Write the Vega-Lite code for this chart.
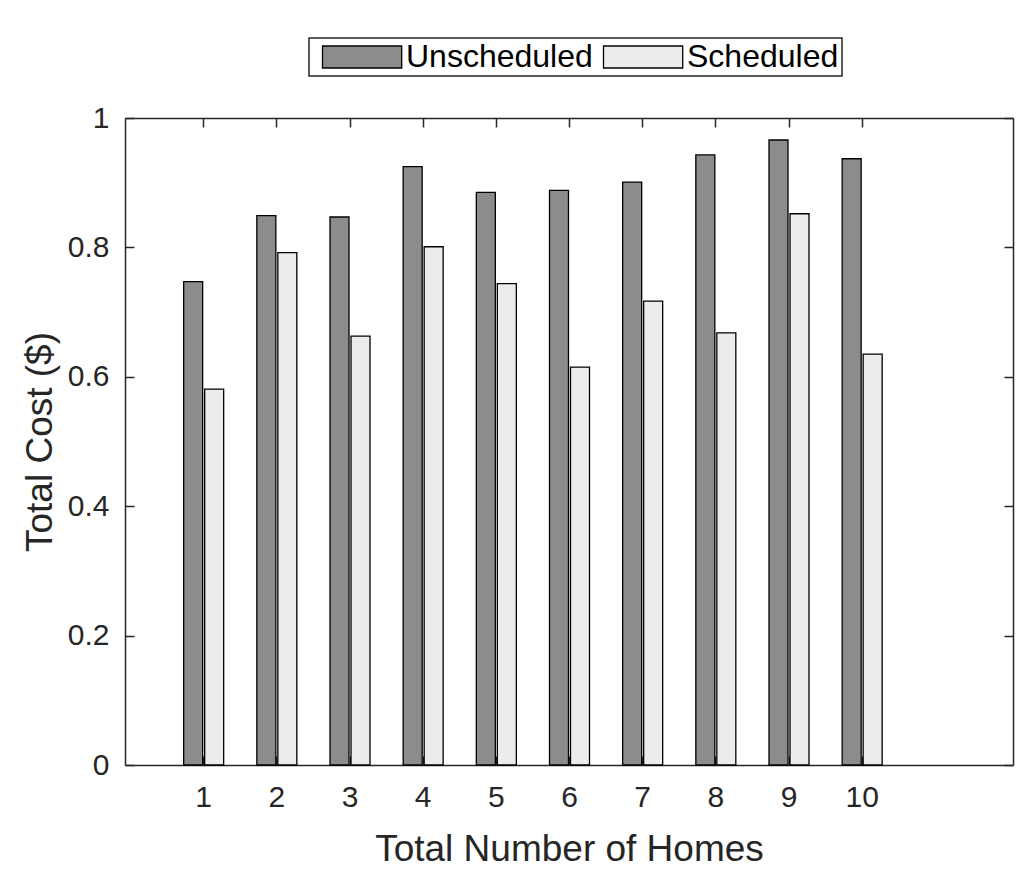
{
  "$schema": "https://vega.github.io/schema/vega-lite/v6.json",
  "width": 888,
  "height": 647,
  "autosize": {"type": "none"},
  "padding": {"left": 125, "top": 118, "right": 11, "bottom": 113},
  "background": "white",
  "config": {
    "view": {"stroke": null},
    "font": "Liberation Sans",
    "axis": {
      "domainColor": "#262626",
      "domainWidth": 1.5,
      "tickColor": "#262626",
      "tickWidth": 1.5,
      "tickSize": -9,
      "labelColor": "#262626",
      "labelFont": "Liberation Sans",
      "labelFontSize": 30,
      "titleColor": "#262626",
      "titleFont": "Liberation Sans",
      "titleFontSize": 37,
      "titleFontWeight": "normal",
      "grid": false
    }
  },
  "data": {
    "values": [
      {"home": 1, "type": "Unscheduled", "cost": 0.747},
      {"home": 2, "type": "Unscheduled", "cost": 0.849},
      {"home": 3, "type": "Unscheduled", "cost": 0.847},
      {"home": 4, "type": "Unscheduled", "cost": 0.925},
      {"home": 5, "type": "Unscheduled", "cost": 0.885},
      {"home": 6, "type": "Unscheduled", "cost": 0.888},
      {"home": 7, "type": "Unscheduled", "cost": 0.901},
      {"home": 8, "type": "Unscheduled", "cost": 0.943},
      {"home": 9, "type": "Unscheduled", "cost": 0.966},
      {"home": 10, "type": "Unscheduled", "cost": 0.937},
      {"home": 1, "type": "Scheduled", "cost": 0.581},
      {"home": 2, "type": "Scheduled", "cost": 0.792},
      {"home": 3, "type": "Scheduled", "cost": 0.663},
      {"home": 4, "type": "Scheduled", "cost": 0.801},
      {"home": 5, "type": "Scheduled", "cost": 0.744},
      {"home": 6, "type": "Scheduled", "cost": 0.615},
      {"home": 7, "type": "Scheduled", "cost": 0.717},
      {"home": 8, "type": "Scheduled", "cost": 0.668},
      {"home": 9, "type": "Scheduled", "cost": 0.852},
      {"home": 10, "type": "Scheduled", "cost": 0.635}
    ]
  },
  "layer": [
    {
      "transform": [{"filter": "datum.type === 'Unscheduled'"}],
      "mark": {"type": "bar", "width": 19, "xOffset": -10, "stroke": "black", "strokeWidth": 1.3},
      "encoding": {
        "x": {
          "field": "home", "type": "quantitative",
          "scale": {"domain": [0, 12], "nice": false, "zero": false},
          "axis": {"orient": "bottom", "values": [1,2,3,4,5,6,7,8,9,10], "format": "d", "title": "Total Number of Homes", "labelPadding": 26, "titlePadding": 19}
        },
        "y": {
          "field": "cost", "type": "quantitative",
          "scale": {"domain": [0, 1], "nice": false},
          "axis": {"orient": "left", "values": [0, 0.2, 0.4, 0.6, 0.8, 1], "format": "~g", "title": "Total Cost ($)", "labelPadding": 25, "titlePadding": 8}
        },
        "color": {
          "field": "type", "type": "nominal",
          "scale": {"domain": ["Unscheduled", "Scheduled"], "range": ["#8c8c8c", "#ececec"]},
          "legend": {
            "orient": "none", "legendX": 184, "legendY": -80, "direction": "horizontal", "title": null,
            "symbolType": "M-0.5,-1H6.7V1H-0.5Z", "symbolSize": 484,
            "symbolStrokeColor": "black", "symbolStrokeWidth": 1.3, "symbolOpacity": 1,
            "labelFontSize": 32, "labelFont": "Liberation Sans", "labelColor": "black", "labelLimit": 400,
            "labelOffset": 62, "columnPadding": 0,
            "strokeColor": "#262626", "padding": 3, "fillColor": "white",
            "encode": {"legend": {"update": {"strokeWidth": {"value": 1.5}}}}
          }
        }
      }
    },
    {
      "transform": [{"filter": "datum.type === 'Scheduled'"}],
      "mark": {"type": "bar", "width": 19, "xOffset": 11, "stroke": "black", "strokeWidth": 1.3},
      "encoding": {
        "x": {
          "field": "home", "type": "quantitative",
          "scale": {"domain": [0, 12], "nice": false, "zero": false},
          "axis": {"orient": "top", "values": [1,2,3,4,5,6,7,8,9,10], "labels": false, "title": null}
        },
        "y": {
          "field": "cost", "type": "quantitative",
          "scale": {"domain": [0, 1], "nice": false},
          "axis": {"orient": "right", "values": [0, 0.2, 0.4, 0.6, 0.8, 1], "labels": false, "title": null}
        },
        "color": {"field": "type", "type": "nominal"}
      }
    }
  ],
  "resolve": {"axis": {"x": "independent", "y": "independent"}}
}
